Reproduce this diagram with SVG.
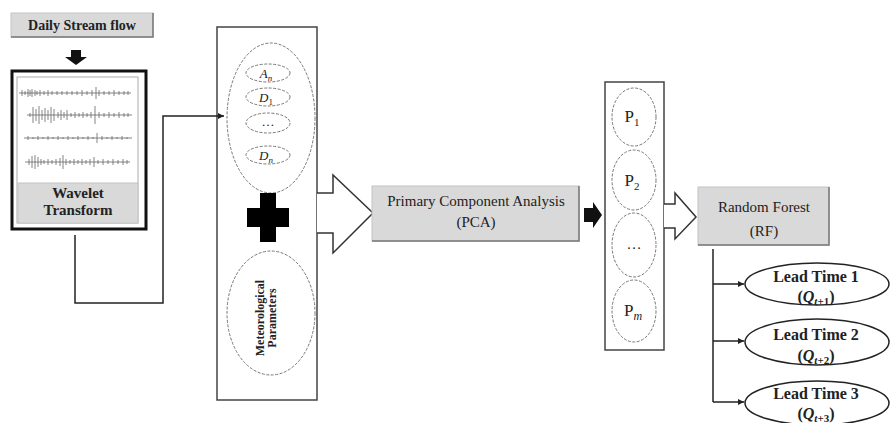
<svg xmlns="http://www.w3.org/2000/svg" width="891" height="423" viewBox="0 0 891 423">
<defs>
<style>
.t{font-family:"Liberation Serif","Times New Roman",serif;fill:#222;text-anchor:middle}
.b{font-weight:bold}
.gbox{fill:#d9d9d9;stroke:#c4c4c4;stroke-width:1}
.shadow{fill:none;stroke:#777;stroke-width:1.5}
.frame{fill:#fff;stroke:#444;stroke-width:1.5}
.dash{fill:none;stroke:#777;stroke-width:1;stroke-dasharray:3,1.5}
.hollow{fill:#fff;stroke:#333;stroke-width:1.5;stroke-linejoin:miter}
.conn{fill:none;stroke:#222;stroke-width:1.5}
.sig{fill:none;stroke:#666;stroke-width:0.8}
.ell{fill:#fff;stroke:#222;stroke-width:1.5}
</style>
<marker id="ah" markerWidth="8" markerHeight="8" refX="6" refY="3" orient="auto" markerUnits="userSpaceOnUse">
<path d="M0,0 L6,3 L0,6 Z" fill="#222"/>
</marker>
</defs>
<rect width="891" height="423" fill="#fff"/>

<g id="daily-stream-flow">
<rect class="gbox" x="11" y="13" width="142" height="24"/>
<path class="shadow" d="M153 13 V37 H11"/>
<text class="t b" x="82" y="30" font-size="14">Daily Stream flow</text>
</g>

<g id="down-arrow">
<path d="M71 50 H81 V57 H87 L76 65 L65 57 H71 Z" fill="#111"/>
</g>

<g id="wavelet-transform">
<rect x="12" y="71" width="134" height="158" fill="#fff" stroke="#111" stroke-width="3"/>
<rect x="17" y="77" width="121" height="146" fill="#fff" stroke="#aaa" stroke-width="1"/>
<g class="sig">
<path d="M19 93 H131 M22 90 V96 M25 91 V95 M28 89 V97 M30 90 V96 M32 89 V97 M35 90 V96 M37 91 V95 M40 90 V96 M44 91 V95 M48 90 V96 M52 91 V95 M57 91 V95 M62 91 V95 M67 91 V95 M72 91 V95 M77 91 V95 M82 90 V96 M87 91 V95 M92 90 V96 M96 87 V99 M99 90 V96 M104 91 V95 M109 91 V95 M114 90 V96 M119 91 V95 M124 91 V95 M128 91 V95"/>
<path d="M27 115 H132 M30 113 V117 M33 107 V123 M36 109 V121 M39 106 V124 M42 110 V120 M45 108 V122 M48 110 V120 M51 107 V123 M54 109 V121 M58 112 V118 M61 110 V120 M64 112 V118 M67 110 V120 M71 113 V117 M75 112 V118 M79 113 V117 M83 112 V118 M87 113 V117 M91 112 V118 M95 106 V124 M99 112 V118 M104 113 V117 M109 112 V118 M114 113 V117 M119 112 V118 M124 113 V117 M128 113 V117"/>
<path d="M24 138 H132 M28 136 V140 M33 137 V139 M38 136 V140 M43 137 V139 M48 136 V140 M53 137 V139 M58 136 V140 M63 137 V139 M68 136 V140 M73 137 V139 M78 136 V140 M83 137 V139 M88 136 V140 M93 137 V139 M97 133 V143 M102 136 V140 M107 137 V139 M112 136 V140 M117 137 V139 M122 136 V140 M127 137 V139"/>
<path d="M25 162 H130 M29 159 V165 M32 156 V168 M35 155 V169 M38 157 V167 M41 159 V165 M44 160 V164 M48 159 V165 M52 160 V164 M56 159 V165 M60 158 V166 M63 155 V169 M66 159 V165 M70 160 V164 M74 159 V165 M78 160 V164 M82 159 V165 M86 160 V164 M90 159 V165 M94 157 V167 M98 160 V164 M103 159 V165 M108 160 V164 M113 159 V165 M118 160 V164 M123 159 V165 M127 160 V164"/>
</g>
<rect class="gbox" x="18" y="183" width="120" height="40"/>
<text class="t b" x="78" y="198" font-size="15">Wavelet</text>
<text class="t b" x="78" y="215" font-size="15">Transform</text>
</g>

<g id="inputs-box">
<rect class="frame" x="217" y="27" width="100" height="373"/>
<ellipse class="dash" cx="271" cy="118" rx="44" ry="75"/>
<ellipse class="dash" cx="268" cy="73" rx="22" ry="9"/>
<ellipse class="dash" cx="268" cy="97" rx="22" ry="9"/>
<ellipse class="dash" cx="268" cy="123" rx="22" ry="10"/>
<ellipse class="dash" cx="268" cy="155" rx="22" ry="9"/>
<text class="t" x="266" y="78" font-size="13"><tspan font-style="italic">A</tspan><tspan font-style="italic" font-size="9" dy="3">n</tspan></text>
<text class="t" x="266" y="102" font-size="13"><tspan font-style="italic">D</tspan><tspan font-size="9" dy="3">1</tspan></text>
<text class="t" x="268" y="126" font-size="13">…</text>
<text class="t" x="266" y="160" font-size="13"><tspan font-style="italic">D</tspan><tspan font-style="italic" font-size="9" dy="3">n</tspan></text>
<path d="M260 193 H276 V208 H289 V227 H276 V242 H260 V227 H247 V208 H260 Z" fill="#000"/>
<ellipse class="dash" cx="271" cy="313" rx="44" ry="62"/>
<text class="t b" font-size="12" transform="translate(264 318) rotate(-90)">Meteorological</text>
<text class="t b" font-size="12" transform="translate(276 318) rotate(-90)">Parameters</text>
<path class="hollow" d="M317 193 H333 V175 L373 213 L333 253 V233 H317"/>
</g>

<g id="pca">
<rect class="gbox" x="372" y="186" width="207" height="55"/>
<path class="shadow" d="M579 186 V241 H372"/>
<text class="t" x="476" y="206" font-size="15">Primary Component Analysis</text>
<text class="t" x="476" y="227" font-size="15">(PCA)</text>
</g>

<g id="pca-arrow">
<path d="M584 208 H593 V202 L602 215 L593 228 V222 H584 Z" fill="#111"/>
</g>

<g id="components-box">
<rect class="frame" x="605" y="82" width="59" height="268"/>
<ellipse class="dash" cx="634" cy="117" rx="22" ry="29"/>
<ellipse class="dash" cx="634" cy="180" rx="22" ry="30"/>
<ellipse class="dash" cx="634" cy="245" rx="22" ry="32"/>
<ellipse class="dash" cx="634" cy="311" rx="22" ry="31"/>
<text class="t" x="632" y="122" font-size="17">P<tspan font-size="11" dy="4">1</tspan></text>
<text class="t" x="632" y="186" font-size="17">P<tspan font-size="11" dy="4">2</tspan></text>
<text class="t" x="634" y="249" font-size="15">…</text>
<text class="t" x="633" y="316" font-size="17">P<tspan font-style="italic" font-size="12" dy="4">m</tspan></text>
<path class="hollow" d="M664 204 H675 V193 L696 217 L675 239 V228 H664"/>
</g>

<g id="random-forest">
<rect class="gbox" x="698" y="187" width="131" height="58"/>
<path class="shadow" d="M829 187 V245 H698"/>
<text class="t" x="764" y="212" font-size="15">Random Forest</text>
<text class="t" x="764" y="236" font-size="15">(RF)</text>
</g>

<g id="lead-time-1">
<ellipse class="ell" cx="817" cy="284" rx="72" ry="21"/>
<text class="t b" x="816" y="282" font-size="16">Lead Time 1</text>
<text class="t b" x="816" y="302" font-size="16">(<tspan font-style="italic">Q</tspan><tspan font-style="italic" font-size="11" dy="3">t</tspan><tspan font-size="11">+1</tspan><tspan dy="-3">)</tspan></text>
</g>
<g id="lead-time-2">
<ellipse class="ell" cx="817" cy="342" rx="72" ry="23"/>
<text class="t b" x="816" y="340" font-size="16">Lead Time 2</text>
<text class="t b" x="816" y="361" font-size="16">(<tspan font-style="italic">Q</tspan><tspan font-style="italic" font-size="11" dy="3">t</tspan><tspan font-size="11">+2</tspan><tspan dy="-3">)</tspan></text>
</g>
<g id="lead-time-3">
<ellipse class="ell" cx="817" cy="403" rx="72" ry="22"/>
<text class="t b" x="816" y="399" font-size="16">Lead Time 3</text>
<text class="t b" x="816" y="419" font-size="16">(<tspan font-style="italic">Q</tspan><tspan font-style="italic" font-size="11" dy="3">t</tspan><tspan font-size="11">+3</tspan><tspan dy="-3">)</tspan></text>
</g>

<g id="connectors">
<path class="conn" d="M75 235 V303 H163 V116 H224" marker-end="url(#ah)"/>
<path class="conn" d="M713 249 V402"/>
<path class="conn" d="M713 284 H744" marker-end="url(#ah)"/>
<path class="conn" d="M713 341 H744" marker-end="url(#ah)"/>
<path class="conn" d="M713 402 H744" marker-end="url(#ah)"/>
</g>
</svg>
